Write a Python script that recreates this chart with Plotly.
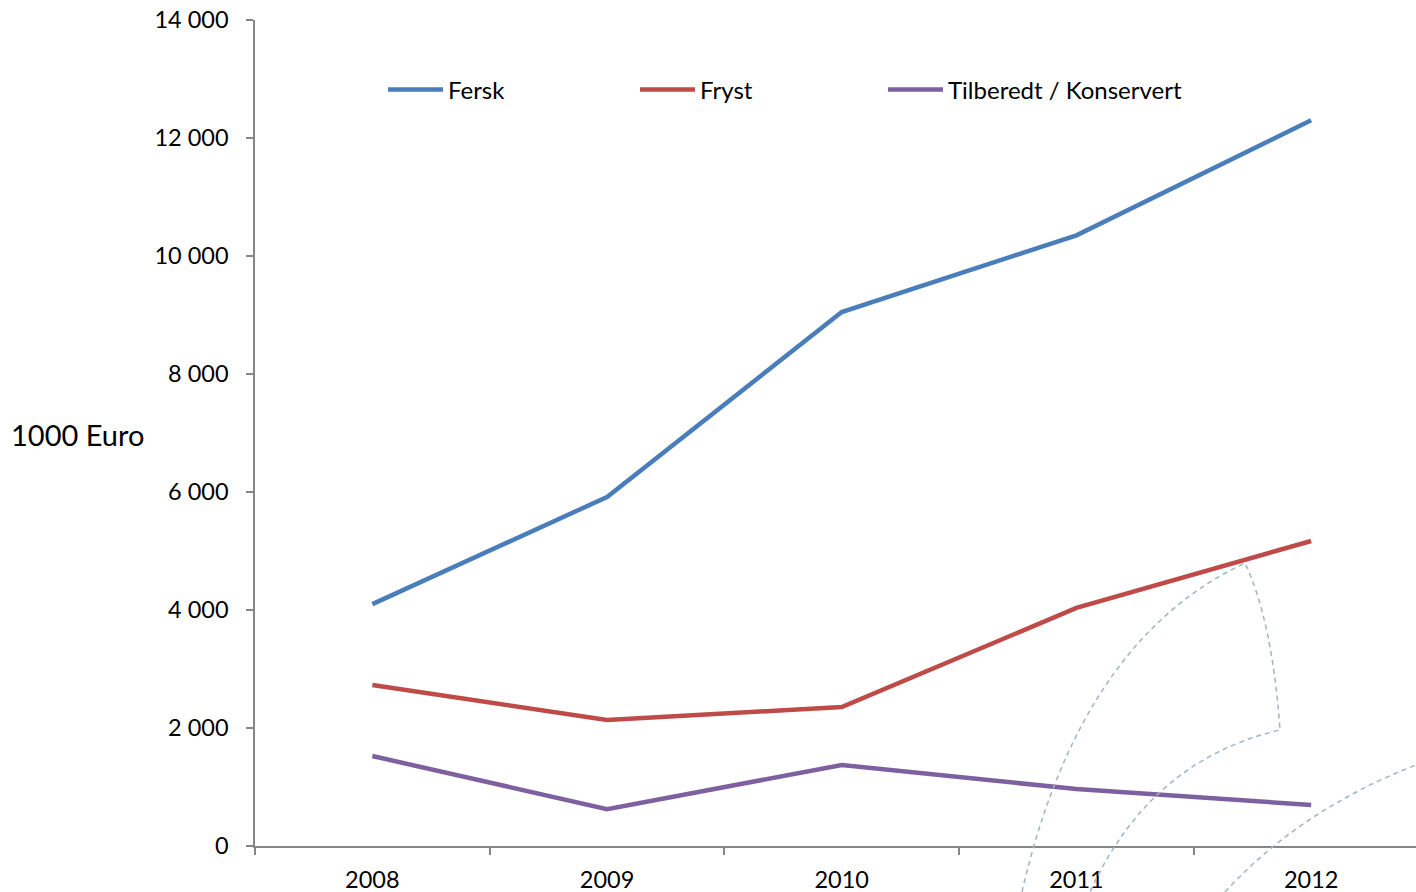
import plotly.graph_objects as go

years = ["2008", "2009", "2010", "2011", "2012"]
fersk = [4100, 5915, 9050, 10350, 12300]
fryst = [2730, 2135, 2355, 4035, 5170]
tilberedt = [1525, 625, 1373, 965, 695]
y_ticks = [0, 2000, 4000, 6000, 8000, 10000, 12000, 14000]

W, H = 1416, 892
L, R, T, B = 255, 0, 20, 46
PW, PH = W - L - R, H - T - B

def px(x, y):
    # page pixel coords -> paper coords
    return (x - L) / PW, (H - B - y) / PH

def path(cmds):
    out = []
    for c in cmds:
        if isinstance(c, str):
            out.append(c)
        else:
            a, b = px(*c)
            out.append(f"{a:.4f},{b:.4f}")
    return " ".join(out)

FONT = "Lato"
fig = go.Figure()
series = [("Fersk", fersk, "#4A7EBB", "legend", 383),
          ("Fryst", fryst, "#BE4B48", "legend2", 635),
          ("Tilberedt / Konservert", tilberedt, "#7E60A0", "legend3", 883)]
legends = {}
for name, vals, col, lg, lx in series:
    fig.add_trace(go.Scatter(x=years, y=vals, name=name, mode="lines", legend=lg,
                             line=dict(color=col, width=4.5)))
    legends[lg] = dict(orientation="h", x=px(lx, 0)[0], y=px(0, 90)[1],
                       yanchor="middle", xanchor="left", itemwidth=55,
                       font=dict(family=FONT, size=24), bgcolor="rgba(0,0,0,0)")

deco = dict(color="#9FB4C4", width=1.5, dash="5px,4px")
shapes = [
    dict(type="path", xref="paper", yref="paper", line=deco,
         path=path(["M", (1022, 892), "Q", (1080, 640), (1245, 563),
                    "Q", (1272, 620), (1280, 730),
                    "Q", (1150, 760), (1090, 892)])),
    dict(type="path", xref="paper", yref="paper", line=deco,
         path=path(["M", (1225, 892), "Q", (1300, 810), (1416, 765)])),
]

ax_x, ax_y = px(9, 434)
fig.update_layout(
    width=W, height=H,
    margin=dict(l=L, r=R, t=T, b=B, autoexpand=False),
    plot_bgcolor="white", paper_bgcolor="white",
    separators=", ",
    font=dict(family=FONT, size=24, color="black"),
    showlegend=True,
    xaxis=dict(type="category", range=[-0.5, -0.5 + PW / 234.7],
               showline=True, linecolor="#868686", linewidth=1.5,
               ticks="outside", ticklen=7, tickcolor="#868686", tickwidth=1.5,
               tickson="boundaries", showgrid=False, zeroline=False,
               ticklabelstandoff=12, ticklabeloverflow="allow", automargin=False,
               tickfont=dict(family=FONT, size=23.5)),
    yaxis=dict(range=[0, 14000], tickvals=y_ticks, tickformat=",",
               showline=True, linecolor="#868686", linewidth=1.5,
               ticks="outside", ticklen=7, tickcolor="#868686", tickwidth=1.5,
               showgrid=False, zeroline=False, ticklabelstandoff=13,
               ticklabeloverflow="allow", automargin=False,
               tickfont=dict(family=FONT, size=23.5)),
    shapes=shapes,
    annotations=[dict(text="1000 Euro", xref="paper", yref="paper", x=ax_x, y=ax_y,
                      xanchor="left", yanchor="middle", showarrow=False,
                      font=dict(family=FONT, size=29))],
    **legends,
)
fig.write_html("out.html", config={"displayModeBar": False},
               post_script="document.body.style.margin='0';document.body.style.overflow='hidden';")
